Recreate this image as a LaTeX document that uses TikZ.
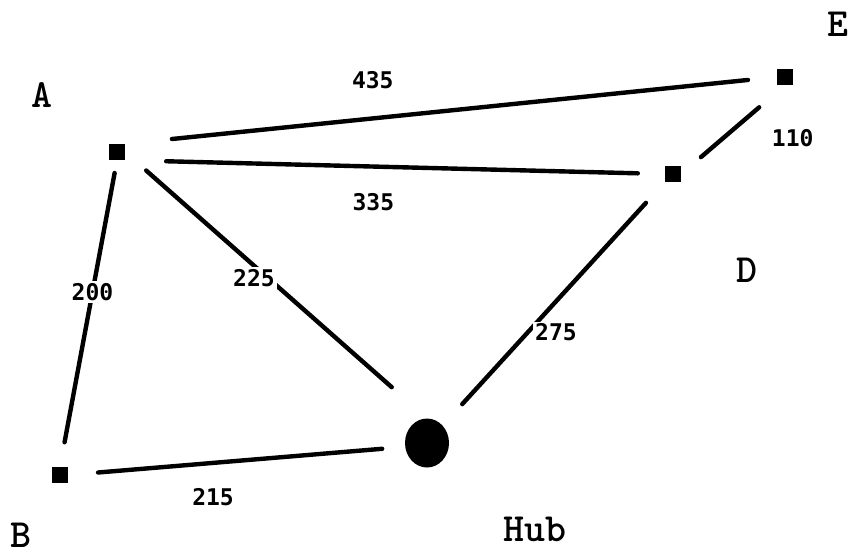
\documentclass[tikz,border=0pt]{standalone}
\usepackage{fontspec}
\usetikzlibrary{positioning,shapes.geometric}
\newfontfamily\costfont{DejaVu Sans Mono}
\tikzset{
  site/.style={rectangle,fill=black,minimum size=16pt,inner sep=0pt},
  hubsite/.style={ellipse,fill=black,minimum width=44pt,minimum height=49pt,inner sep=0pt},
  sitename/.style={font=\ttfamily\bfseries\fontsize{40}{40}\selectfont,inner sep=0pt},
  cost/.style={font=\costfont\fontsize{23}{23}\selectfont\bfseries,inner sep=2pt},
  link/.style={line width=4.4pt,line cap=round}
}

\begin{document}
\begin{tikzpicture}[x=1pt,y=-1pt]
\useasboundingbox (0,0) rectangle (849,555);
\node[site] (A) at (117,152) {};
\node[site] (B) at (60,475) {};
\node[site] (D) at (673,174) {};
\node[site] (E) at (785,77) {};
\node[hubsite] (hub) at (427,443) {};
\node[sitename] (labA) at (42,95) {A};
\node[sitename] (labB) at (21,535) {B};
\node[sitename] (labD) at (747,270) {D};
\node[sitename] (labE) at (838,24) {E};
\node[sitename] (labhub) at (535,529) {Hub};
% links with their costs
\draw[link,shorten <=47pt,shorten >=29pt] (A.north east) -- (E.west) node[cost,pos=.38,above=25pt] (c435) {435};
\draw[link,shorten <=41pt,shorten >=27pt] (A.south east) -- (D.west) node[cost,pos=.46,below=23pt] (c335) {335};
\draw[link,shorten <=34pt,shorten >=26pt] (E.south) -- (D.east) node[cost,pos=.6,right=45pt] (c110) {110};
\draw[link,shorten <=13pt,shorten >=25pt] (A.south) -- (B.north) node[cost,fill=white,pos=.43] (c200) {200};
\draw[link,shorten <=28pt,shorten >=47pt] (A.east) -- (hub.north) node[cost,fill=white,pos=.44,xshift=-4pt,yshift=-9pt] (c225) {225};
\draw[link,shorten <=28pt,shorten >=29pt] (D.south west) -- (hub.north east) node[cost,fill=white,pos=.58,xshift=20pt,yshift=-9pt] (c275) {275};
\draw[link,shorten <=30pt,shorten >=23pt] (B.east) -- (hub.190) node[cost,pos=.43,below=21pt] (c215) {215};
\end{tikzpicture}
\end{document}
